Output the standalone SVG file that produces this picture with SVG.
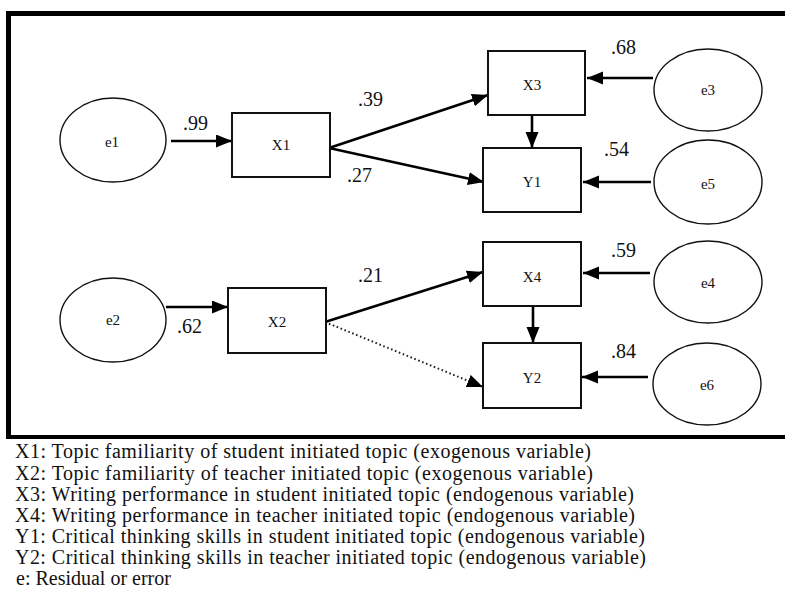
<svg xmlns="http://www.w3.org/2000/svg" width="785" height="608" viewBox="0 0 785 608">
<style>
text{font-family:"Liberation Serif","Times New Roman",serif;fill:#111}
.nl{font-size:15px;text-anchor:middle}
.el{font-size:20px}
.lg{font-size:20px}
.box{fill:#fff;stroke:#111;stroke-width:2}
.ell{fill:#fff;stroke:#111;stroke-width:1.4}
.c{fill:none;stroke:#000;stroke-width:2.6;marker-end:url(#ah)}
.d{fill:none;stroke:#222;stroke-width:2;stroke-dasharray:1.6 2.6;marker-end:url(#ah)}
</style>
<defs>
<marker id="ah" markerUnits="userSpaceOnUse" markerWidth="17" markerHeight="14" refX="16" refY="6.5" orient="auto">
<path d="M0,0 L16,6.5 L0,13 z" fill="#000"/>
</marker>
</defs>
<rect width="785" height="608" fill="#fff"/>
<g id="frame">
<path d="M8.5 437 V13.5 H785" fill="none" stroke="#000" stroke-width="5"/>
<path d="M6 437 H785" fill="none" stroke="#000" stroke-width="4"/>
</g>
<g id="connectors">
<path class="c" d="M171 141 L232 141"/>
<path class="c" d="M329 148 L488 95"/>
<path class="c" d="M329 148 L484 182"/>
<path class="c" d="M532 115 L532 148"/>
<path class="c" d="M653 78 L587 78"/>
<path class="c" d="M651 182 L583 182"/>
<path class="c" d="M166 307 L228 307"/>
<path class="c" d="M325 322 L483 272"/>
<path class="d" d="M325 322 L483 387"/>
<path class="c" d="M533 306 L533 343"/>
<path class="c" d="M650 273 L583 273"/>
<path class="c" d="M648 377 L582 377"/>
</g>
<g id="e1"><ellipse class="ell" cx="113" cy="140" rx="53" ry="42"/><text class="nl" x="112" y="147">e1</text></g>
<g id="X1"><rect class="box" x="232" y="113" width="98" height="64"/><text class="nl" x="281" y="150">X1</text></g>
<g id="X3"><rect class="box" x="488" y="51" width="97" height="64"/><text class="nl" x="532" y="90">X3</text></g>
<g id="Y1"><rect class="box" x="483" y="148" width="98" height="64"/><text class="nl" x="532" y="187">Y1</text></g>
<g id="e3"><ellipse class="ell" cx="708" cy="90" rx="54" ry="41"/><text class="nl" x="708" y="95">e3</text></g>
<g id="e5"><ellipse class="ell" cx="708" cy="182" rx="54" ry="42"/><text class="nl" x="708" y="189">e5</text></g>
<g id="e2"><ellipse class="ell" cx="113" cy="320" rx="53" ry="42"/><text class="nl" x="113" y="325">e2</text></g>
<g id="X2"><rect class="box" x="228" y="288" width="98" height="65"/><text class="nl" x="277" y="327">X2</text></g>
<g id="X4"><rect class="box" x="483" y="242" width="98" height="64"/><text class="nl" x="532" y="282">X4</text></g>
<g id="Y2"><rect class="box" x="483" y="343" width="98" height="65"/><text class="nl" x="532" y="383">Y2</text></g>
<g id="e4"><ellipse class="ell" cx="708" cy="282" rx="54" ry="41"/><text class="nl" x="708" y="288">e4</text></g>
<g id="e6"><ellipse class="ell" cx="707" cy="384" rx="54" ry="41"/><text class="nl" x="707" y="390">e6</text></g>
<g id="edge-labels">
<text class="el" x="183" y="130">.99</text>
<text class="el" x="358" y="106">.39</text>
<text class="el" x="347" y="182">.27</text>
<text class="el" x="611" y="54">.68</text>
<text class="el" x="604" y="156">.54</text>
<text class="el" x="177" y="333">.62</text>
<text class="el" x="358" y="282">.21</text>
<text class="el" x="611" y="257">.59</text>
<text class="el" x="611" y="358">.84</text>
</g>
<g id="legend">
<text class="lg" x="15" y="458" textLength="576" lengthAdjust="spacing">X1: Topic familiarity of student initiated topic (exogenous variable)</text>
<text class="lg" x="15" y="480" textLength="578" lengthAdjust="spacing">X2: Topic familiarity of teacher initiated topic (exogenous variable)</text>
<text class="lg" x="15" y="501" textLength="619" lengthAdjust="spacing">X3: Writing performance in student initiated topic (endogenous variable)</text>
<text class="lg" x="15" y="522" textLength="620" lengthAdjust="spacing">X4: Writing performance in teacher initiated topic (endogenous variable)</text>
<text class="lg" x="15" y="543" textLength="630" lengthAdjust="spacing">Y1: Critical thinking skills in student initiated topic (endogenous variable)</text>
<text class="lg" x="15" y="564" textLength="631" lengthAdjust="spacing">Y2: Critical thinking skills in teacher initiated topic (endogenous variable)</text>
<text class="lg" x="16" y="585">e: Residual or error</text>
</g>
</svg>
